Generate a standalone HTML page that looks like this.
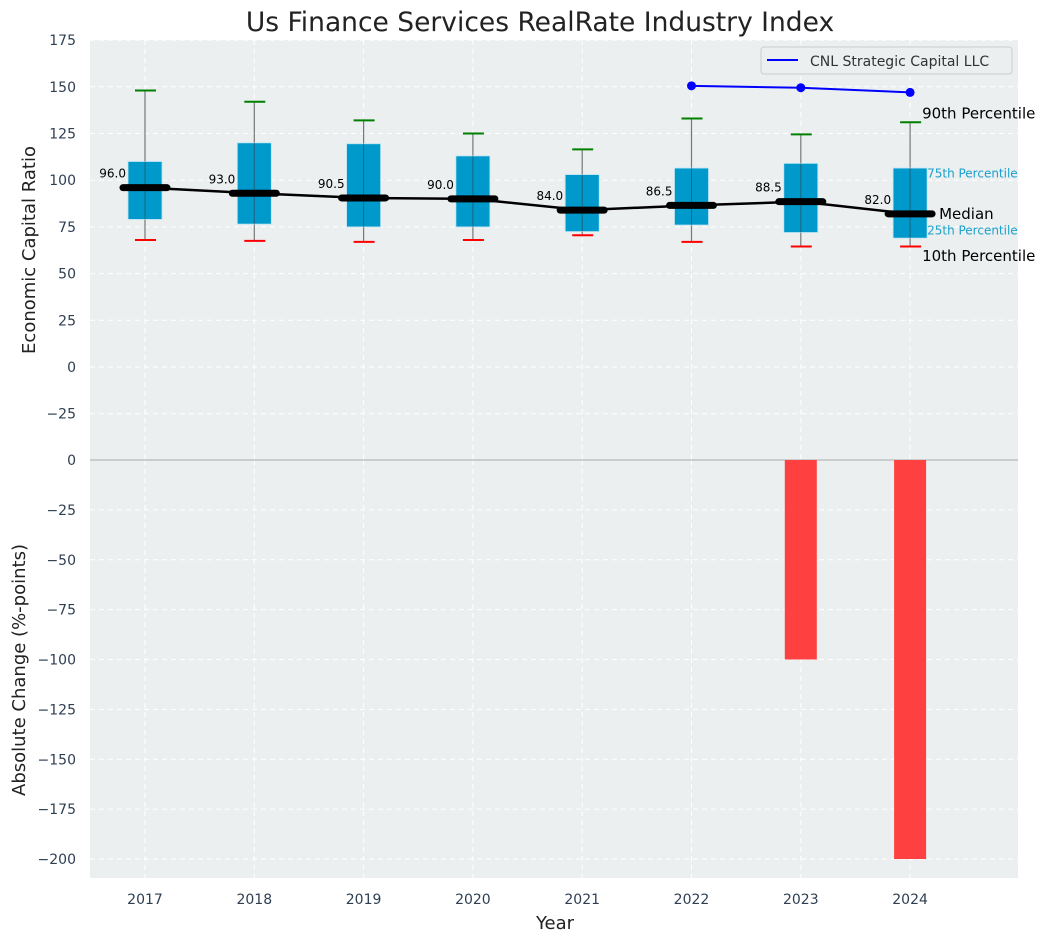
<!DOCTYPE html>
<html><head><meta charset="utf-8"><style>
body{margin:0;background:#fff;font-family:"Liberation Sans","DejaVu Sans",sans-serif}
svg text{font-family:"DejaVu Sans","Liberation Sans",sans-serif}
</style></head><body>
<svg id="chart" width="1057" height="942" xmlns="http://www.w3.org/2000/svg"></svg>
<script>
const years=[2017,2018,2019,2020,2021,2022,2023,2024];
const p10=[68,67.5,67,68,70.5,67,64.5,64.5];
const q1=[79,76.5,75,75,72.5,76,72,69];
const med=[96,93,90.5,90,84,86.5,88.5,82];
const q3=[110,120,119.5,113,103,106.5,109,106.5];
const p90=[148,142,132,125,116.5,133,124.5,131];
const cnlYears=[2022,2023,2024];
const cnlVals=[150.5,149.5,147];
const changeYears=[2023,2024];
const changeVals=[-100,-200];
const topTicks=[175,150,125,100,75,50,25,0,-25];
const botTicks=[0,-25,-50,-75,-100,-125,-150,-175,-200];

const svg=document.getElementById('chart');
const NS='http://www.w3.org/2000/svg';
function el(t,a,txt){const e=document.createElementNS(NS,t);for(const k in a)e.setAttribute(k,a[k]);if(txt!==undefined)e.textContent=txt;svg.appendChild(e);return e;}
const L=90,R=1018;
const x=v=>145+(v-2017)*109.3;
const yT=v=>367-v*46.7/25;
const yb=v=>460+(-v)*399/200;
const fmt=v=>v<0?'\u2212'+(-v):''+v;

let e;
e=el('rect',{x:L,y:40,width:R-L,height:420,fill:'#ebeff0'});

e=el('rect',{x:L,y:460,width:R-L,height:418,fill:'#ebeff0'});

topTicks.forEach(t=>{e=el('line',{x1:L,x2:R,y1:yT(t),y2:yT(t),stroke:'#fff','stroke-dasharray':'5,4','stroke-width':1});
e=el('text',{x:76,y:yT(t)+5,'text-anchor':'end','font-size':14,fill:'#2e3f52'},fmt(t));});
botTicks.forEach(t=>{e=el('line',{x1:L,x2:R,y1:yb(t),y2:yb(t),stroke:'#fff','stroke-dasharray':'5,4','stroke-width':1});
e=el('text',{x:76,y:yb(t)+5,'text-anchor':'end','font-size':14,fill:'#2e3f52'},fmt(t));});
years.forEach(yr=>{[[40,460],[460,878]].forEach(([a,b])=>{e=el('line',{x1:x(yr),x2:x(yr),y1:a,y2:b,stroke:'#fff','stroke-dasharray':'5,4'});});
e=el('text',{x:x(yr),y:904,'text-anchor':'middle','font-size':14,fill:'#2e3f52'},yr);});
e=el('line',{x1:L,x2:R,y1:460,y2:460,stroke:'#aaa','stroke-width':1});
years.forEach((yr,i)=>{const cx=x(yr);
e=el('line',{x1:cx,x2:cx,y1:yT(p90[i]),y2:yT(p10[i]),stroke:'#777','stroke-width':1.2});
e=el('rect',{x:cx-17,y:yT(q3[i]),width:34,height:yT(q1[i])-yT(q3[i]),fill:'#0099cc',stroke:'#bde4f2','stroke-width':0.8});
e=el('line',{x1:cx,x2:cx,y1:yT(q3[i]),y2:yT(q1[i]),stroke:'#333','stroke-width':1,opacity:0.5});
e=el('line',{x1:cx-10,x2:cx+11,y1:yT(p90[i]),y2:yT(p90[i]),stroke:'green','stroke-width':2});
e=el('line',{x1:cx-10,x2:cx+11,y1:yT(p10[i]),y2:yT(p10[i]),stroke:'red','stroke-width':2});
});
e=el('polyline',{points:years.map((yr,i)=>x(yr)+','+yT(med[i])).join(' '),fill:'none',stroke:'#000','stroke-width':2.5});
years.forEach((yr,i)=>{const cx=x(yr);
e=el('line',{x1:cx-22,x2:cx+22,y1:yT(med[i]),y2:yT(med[i]),stroke:'#000','stroke-width':7,'stroke-linecap':'round'});
e=el('text',{x:cx-19,y:yT(med[i])-10,'text-anchor':'end','font-size':12,fill:'#000'},med[i].toFixed(1));});
e=el('polyline',{points:cnlYears.map((yr,i)=>x(yr)+','+yT(cnlVals[i])).join(' '),fill:'none',stroke:'blue','stroke-width':2});
cnlYears.forEach((yr,i)=>{e=el('circle',{cx:x(yr),cy:yT(cnlVals[i]),r:4.5,fill:'blue'});});
changeYears.forEach((yr,i)=>{const v=changeVals[i];e=el('rect',{x:x(yr)-16,y:460,width:32,height:yb(v)-460,fill:'#ff4040'});});
const li=years.length-1,lx=x(years[li]);
[['90th Percentile',yT(p90[li])-9,15,'#000',lx+12],['75th Percentile',yT(q3[li])+5,12,'#1aa0cc',lx+17],['Median',yT(med[li]),15,'#000',lx+29],['25th Percentile',yT(q1[li])-8,12,'#1aa0cc',lx+17],['10th Percentile',yT(p10[li])+9,15,'#000',lx+12]].forEach(a=>{
e=el('text',{x:a[4],y:a[1]+a[2]*0.36,'font-size':a[2],fill:a[3]},a[0]);});
e=el('rect',{x:761,y:47,width:251,height:27,rx:3,fill:'#ebeff0',stroke:'#ccc'});
e=el('line',{x1:767,x2:798,y1:60,y2:60,stroke:'blue','stroke-width':2});
e=el('text',{x:810,y:66,'font-size':14,fill:'#333'},'CNL Strategic Capital LLC');
e=el('text',{x:540,y:31,'text-anchor':'middle','font-size':26.5,fill:'#222'},'Us Finance Services RealRate Industry Index');
e=el('text',{x:555,y:929,'text-anchor':'middle','font-size':18,fill:'#222'},'Year');
e=el('text',{x:35,y:250,'text-anchor':'middle','font-size':18,fill:'#222',transform:'rotate(-90 35 250)'},'Economic Capital Ratio');
e=el('text',{x:25,y:670,'text-anchor':'middle','font-size':18,fill:'#222',transform:'rotate(-90 25 670)'},'Absolute Change (%-points)');
</script>
</body></html>
